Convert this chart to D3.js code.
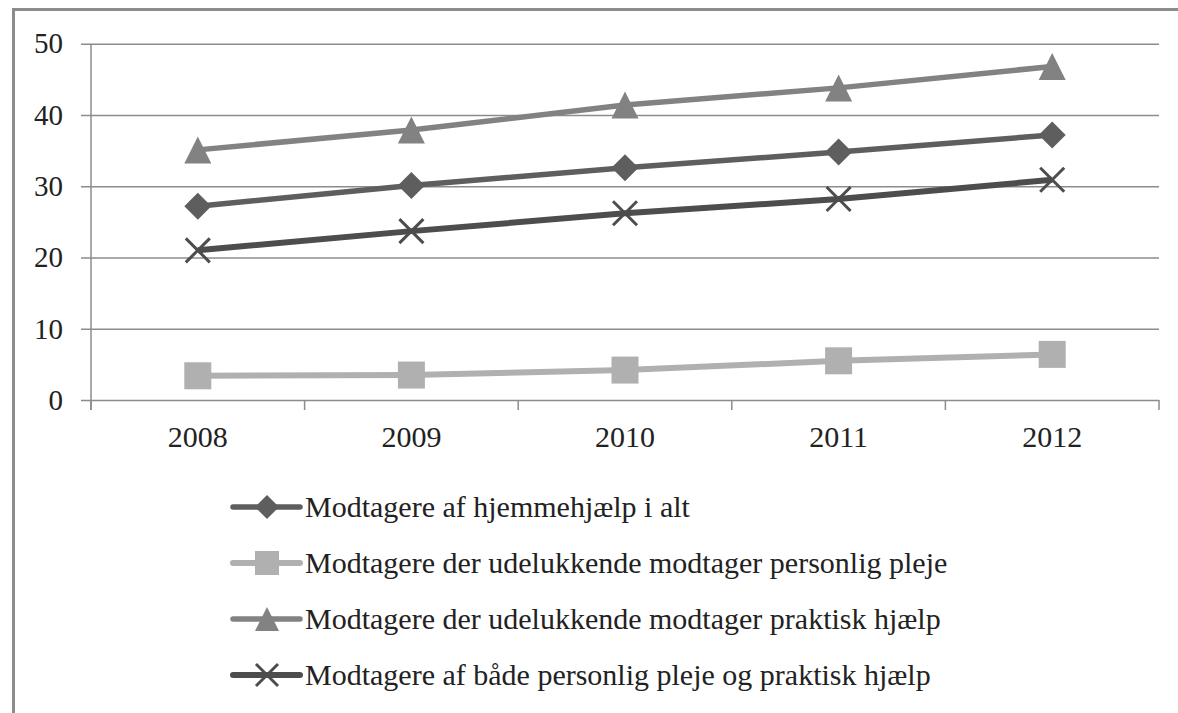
<!DOCTYPE html>
<html>
<head>
<meta charset="utf-8">
<script src="https://cdn.jsdelivr.net/npm/d3@7"></script>
<style>
  body { margin: 0; background: #fff; }
  svg { display: block; }
  text { font-family: "Liberation Serif", "Times New Roman", serif; fill: #222; }
</style>
</head>
<body>
<div class="chart"></div>
<script>
const years = ["2008", "2009", "2010", "2011", "2012"];
const yTicks = [0, 10, 20, 30, 40, 50];

const seriesNames = [
	"Modtagere af hjemmehjælp i alt",
	"Modtagere der udelukkende modtager personlig pleje",
	"Modtagere der udelukkende modtager praktisk hjælp",
	"Modtagere af både personlig pleje og praktisk hjælp"
];
const totalValues = [27.2, 30.1, 32.6, 34.8, 37.2];
const careValues = [3.4, 3.5, 4.2, 5.5, 6.4];
const practicalValues = [35.1, 37.9, 41.4, 43.8, 46.8];
const bothValues = [21.0, 23.7, 26.2, 28.2, 30.9];

const width = 1178, height = 713;
const plot = { left: 91, right: 1159, top: 43.7, bottom: 400 };
const serif = "'Liberation Serif', 'Times New Roman', serif";

const svg = d3.select("div.chart").append("svg")
	.attr("width", width)
	.attr("height", height);

// outer frame of the chart
svg.append("rect")
	.attr("x", 13.5).attr("y", 9.5)
	.attr("width", width).attr("height", height)
	.attr("fill", "none")
	.attr("stroke", "#8c8c8c")
	.attr("stroke-width", 3);

const x = d3.scaleBand().domain(years).range([plot.left, plot.right]).paddingInner(0).paddingOuter(0);
const y = d3.scaleLinear().domain([0, 50]).range([plot.bottom, plot.top]);

// y axis with gridlines
const yAxis = svg.append("g")
	.attr("transform", `translate(${plot.left},0)`)
	.call(d3.axisLeft(y).tickValues(yTicks).tickSizeInner(10).tickSizeOuter(0).tickPadding(18));
yAxis.attr("font-family", serif);
yAxis.select(".domain")
	.attr("stroke", "#8c8c8c").attr("stroke-width", 1.5)
	.attr("d", `M0,${plot.top}V${plot.bottom + 10}`);
yAxis.selectAll(".tick line")
	.attr("x2", plot.right - plot.left)
	.attr("x1", -10)
	.attr("stroke", "#8c8c8c").attr("stroke-width", 1.5);
yAxis.selectAll(".tick text")
	.attr("font-size", 29).attr("fill", "#222")
	.attr("font-family", serif);

// x axis: labels in band centres, tick marks on band boundaries
const xAxis = svg.append("g")
	.attr("transform", `translate(0,${plot.bottom})`)
	.call(d3.axisBottom(x).tickSize(0).tickPadding(26));
xAxis.attr("font-family", serif);
xAxis.select(".domain").remove();
xAxis.selectAll(".tick text")
	.attr("font-size", 30).attr("fill", "#222")
	.attr("font-family", serif);
const bounds = years.map(d => x(d)).concat([x(years[years.length - 1]) + x.step()]);
xAxis.selectAll(".bound").data(bounds).join("line")
	.attr("class", "bound")
	.attr("x1", d => d).attr("x2", d => d)
	.attr("y1", 0).attr("y2", 10)
	.attr("stroke", "#8c8c8c").attr("stroke-width", 1.5);

const series = [
	{ name: seriesNames[0], values: totalValues, color: "#5e5e5e", marker: "diamond", lw: 5.5 },
	{ name: seriesNames[1], values: careValues, color: "#b0b0b0", marker: "square", lw: 6 },
	{ name: seriesNames[2], values: practicalValues, color: "#828282", marker: "triangle", lw: 5.5 },
	{ name: seriesNames[3], values: bothValues, color: "#4d4d4d", marker: "cross", lw: 6 }
];

const cx = d => x(d) + x.bandwidth() / 2;

function drawMarker(g, type, color, size) {
	if (type === "diamond") {
		g.append("path").attr("d", `M0,${-size / 2}L${size / 2},0L0,${size / 2}L${-size / 2},0Z`).attr("fill", color);
	} else if (type === "square") {
		g.append("rect").attr("x", -size / 2).attr("y", -size / 2)
			.attr("width", size).attr("height", size).attr("fill", color);
	} else if (type === "triangle") {
		g.append("path").attr("d", `M0,${-size / 2}L${size / 2},${size / 2}L${-size / 2},${size / 2}Z`).attr("fill", color);
	} else {
		const h = size / 2;
		g.append("path").attr("d", `M${-h},${-h}L${h},${h}M${-h},${h}L${h},${-h}`)
			.attr("stroke", color).attr("stroke-width", 3).attr("fill", "none");
	}
}

const line = d3.line().x((d, i) => cx(years[i])).y(d => y(d));

// draw back to front: lighter series first
[1, 2, 0, 3].forEach(k => {
	const s = series[k];
	const g = svg.append("g");
	g.append("path")
		.attr("d", line(s.values))
		.attr("fill", "none")
		.attr("stroke", s.color)
		.attr("stroke-width", s.lw)
		.attr("stroke-linejoin", "round");
	s.values.forEach((v, i) => {
		const m = g.append("g").attr("transform", `translate(${cx(years[i])},${y(v)})`);
		drawMarker(m, s.marker, s.color, s.marker === "cross" ? 24 : 27);
	});
});

// legend
const legendY = d3.scalePoint().domain(seriesNames).range([507, 675]);
const legend = svg.append("g");
series.forEach(s => {
	const row = legend.append("g").attr("transform", `translate(0,${legendY(s.name)})`);
	row.append("line")
		.attr("x1", 233).attr("x2", 300)
		.attr("stroke", s.color).attr("stroke-width", s.lw)
		.attr("stroke-linecap", "round");
	const m = row.append("g").attr("transform", "translate(267,0)");
	drawMarker(m, s.marker, s.color, s.marker === "cross" ? 22 : 24);
	row.append("text")
		.attr("x", 305).attr("y", 0).attr("dy", "0.32em")
		.attr("font-size", 30)
		.attr("font-family", serif)
		.text(s.name);
});
</script>
</body>
</html>
